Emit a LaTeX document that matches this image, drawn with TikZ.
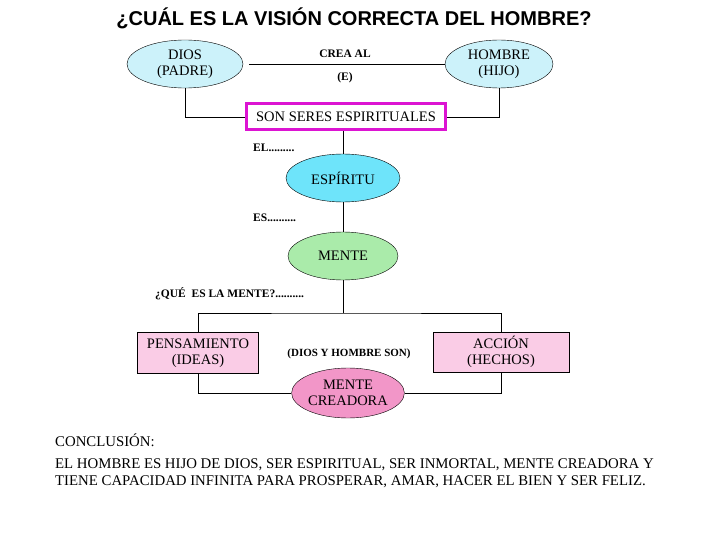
\documentclass[tikz,border=0pt]{standalone}
\usepackage{fontspec}
\setmainfont{Liberation Serif}
\newfontfamily\titlefont{Liberation Sans}
\usetikzlibrary{shapes.geometric,positioning}
\definecolor{diosfill}{RGB}{204,242,250}
\definecolor{espfill}{RGB}{110,228,250}
\definecolor{mentefill}{RGB}{170,235,170}
\definecolor{creafill}{RGB}{242,150,200}
\definecolor{boxfill}{RGB}{250,204,230}
\definecolor{sonmagenta}{RGB}{220,20,210}

\begin{document}
\begin{tikzpicture}[x=1pt, y=-1pt,
  every node/.style={font=\fontsize{14.5}{16.5}\selectfont},
  oval/.style={ellipse, draw, inner sep=0pt, minimum width=114pt, minimum height=48pt, align=center},
  pinkbox/.style={draw, fill=boxfill, inner sep=0pt, minimum height=41pt, align=center},
  tag/.style={font=\fontsize{11.5}{14}\selectfont\bfseries, inner sep=0pt},
  link/.style={line width=0.8pt}]
\useasboundingbox (0,0) rectangle (720,540);

\node[font=\titlefont\fontsize{20}{24}\selectfont\bfseries] (title) at (354,18) {¿CUÁL ES LA VISIÓN CORRECTA DEL HOMBRE?};

\node[oval, fill=diosfill, minimum width=116pt] (dios) at (185,64) {DIOS\\(PADRE)};
\node[oval, fill=diosfill, minimum width=108pt] (hombre) at (499,64) {HOMBRE\\(HIJO)};
\node[tag, font=\fontsize{11.5}{13}\selectfont\bfseries] (crea) at (345,54) {CREA AL};
\node[tag, font=\fontsize{11.5}{13}\selectfont\bfseries] (el) at (345,78) {(E)};

\node[draw=sonmagenta, line width=3pt, fill=white, minimum width=199pt, minimum height=26pt, inner sep=0pt] (son) at (346,117) {SON SERES ESPIRITUALES};

\node[tag, anchor=west] (ellbl) at (253,148) {EL.........};
\node[oval, fill=espfill] (espiritu) at (343,178) {ESPÍRITU};
\node[tag, anchor=west] (eslbl) at (253,218) {ES..........};
\node[oval, fill=mentefill, minimum width=110pt] (mente) at (343,256) {MENTE};
\node[tag, anchor=west] (quelbl) at (155,294) {¿QUÉ\ \ ES LA MENTE?..........};
\coordinate (split) at (343,313);

\node[pinkbox, minimum width=121pt] (pens) at (198,353) {PENSAMIENTO\\(IDEAS)};
\node[pinkbox, minimum width=136pt, minimum height=40pt] (accion) at (501,352) {ACCIÓN\\(HECHOS)};
\node[tag, font=\fontsize{11}{13}\selectfont\bfseries] (sonlbl) at (349,354) {(DIOS Y HOMBRE SON)};
\node[oval, fill=creafill, minimum width=112pt, minimum height=50pt] (creadora) at (348,393) {MENTE\\CREADORA};

\node[anchor=west, inner sep=0pt, font=\fontsize{14.8}{18}\selectfont] (concl) at (55,440) {CONCLUSIÓN:};
\node[anchor=north west, inner sep=0pt, align=left, font=\fontsize{14.8}{17.5}\selectfont] (texto) at (55,458) {EL HOMBRE ES HIJO DE DIOS, SER ESPIRITUAL, SER INMORTAL, MENTE CREADORA Y\\TIENE CAPACIDAD INFINITA PARA PROSPERAR, AMAR, HACER EL BIEN Y SER FELIZ.};

% connectors
\draw[link] ([xshift=6pt]dios.east) -- (hombre.west);
\draw[link] (dios.south) |- (son.west);
\draw[link] (hombre.south) |- (son.east);
\draw[link] (son.south -| espiritu.north) -- (espiritu.north);
\draw[link] (espiritu) -- (mente);
\draw[link] (mente.south) -- (split);
\draw[link] (pens.north) |- (split) -| (accion.north);
\draw[link] (pens.south) |- (creadora.west);
\draw[link] (accion.south) |- (creadora.east);
\end{tikzpicture}
\end{document}
